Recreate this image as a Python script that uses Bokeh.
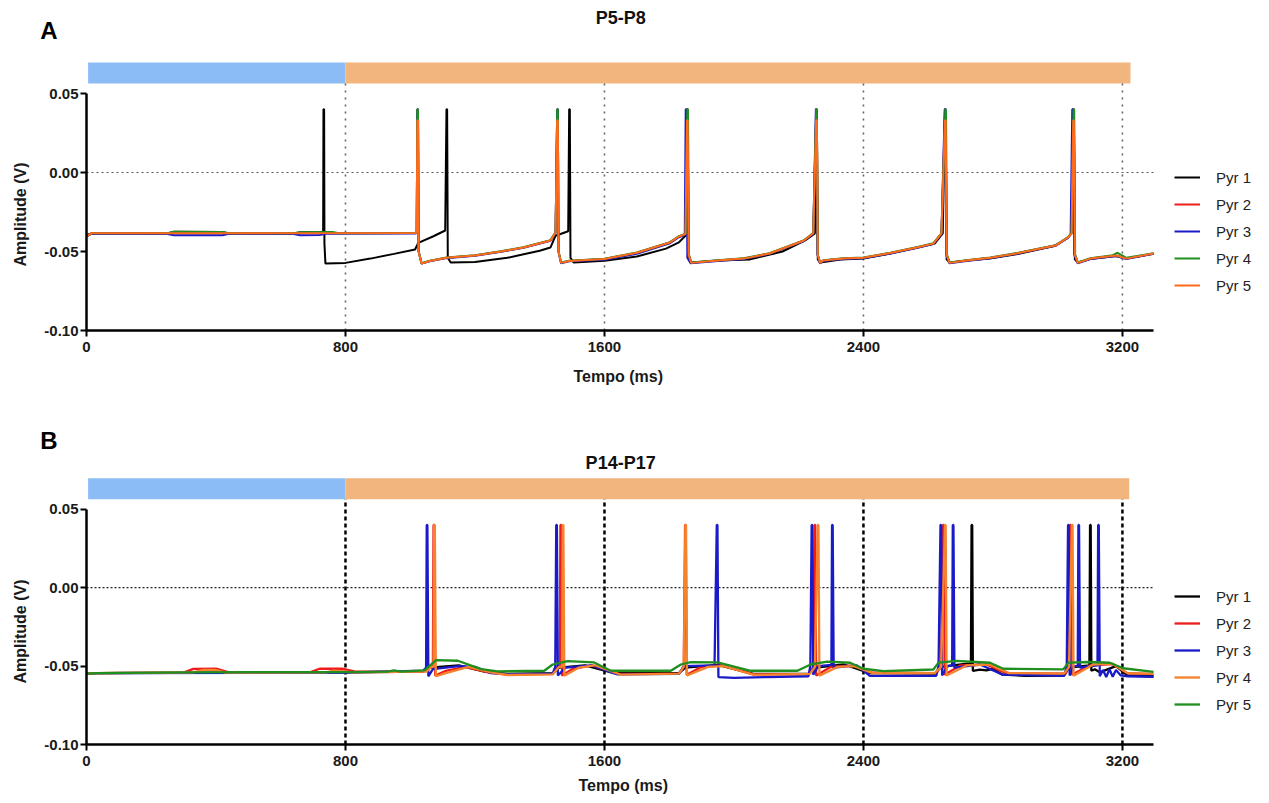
from bokeh.plotting import figure
from bokeh.models import (Range1d, FixedTicker, PrintfTickFormatter, Label, Title,
                          LinearAxis)
from bokeh.layouts import column
from bokeh.embed import file_html
from bokeh.resources import INLINE

# ---------------- data ----------------
X_TICKS = [0, 800, 1600, 2400, 3200]
Y_TICKS = [-0.10, -0.05, 0.00, 0.05]
STAGE_START = [5, 800]
STAGE_END_A = [800, 3225]
STAGE_END_B = [800, 3221]
STAGE_COLORS = ["#8cbcf5", "#f2b57d"]
VLINES = [800, 1600, 2400, 3200]
NAMES = ["Pyr 1", "Pyr 2", "Pyr 3", "Pyr 4", "Pyr 5"]

# Panel A (P5-P8) traces, (time ms, amplitude V)
A_PYR1 = [(0,-0.0395),(15,-0.0386),(250,-0.0386),(270,-0.0375),(420,-0.0376),(440,-0.0386),(640,-0.0386),(660,-0.0378),(728,-0.0376),(731,-0.0380),(732,0.040),(734,0.040),(735,-0.0450),(738,-0.0576),(800,-0.0572),(877,-0.0545),(950,-0.0515),(1015,-0.0487),(1025,-0.0445),(1070,-0.0405),(1108,-0.0367),(1112,0.040),(1114,0.040),(1116,-0.0540),(1125,-0.0570),(1200,-0.0566),(1300,-0.0540),(1400,-0.0495),(1433,-0.0475),(1449,-0.0400),(1488,-0.0372),(1491,0.040),(1493,0.040),(1495,-0.0540),(1505,-0.0570),(1600,-0.0558),(1700,-0.0532),(1790,-0.0482),(1830,-0.0442),(1850,-0.0400),(1855,0.040),(1857,0.040),(1860,-0.0550),(1868,-0.0570),(1950,-0.0557),(2050,-0.0550),(2150,-0.0500),(2220,-0.0430),(2250,-0.0385),(2254,0.040),(2256,0.040),(2259,-0.0550),(2266,-0.0570),(2330,-0.0550),(2400,-0.0545),(2480,-0.0515),(2560,-0.0478),(2620,-0.0450),(2645,-0.0385),(2652,0.040),(2654,0.040),(2657,-0.0550),(2666,-0.0570),(2720,-0.0557),(2790,-0.0545),(2880,-0.0515),(2990,-0.0465),(3030,-0.0415),(3043,-0.0385),(3048,0.040),(3050,0.040),(3053,-0.0550),(3062,-0.0570),(3100,-0.0548),(3180,-0.0528),(3212,-0.0545),(3296,-0.0515)]
A_PYR2 = [(0,-0.0405),(15,-0.0385),(250,-0.0385),(1016,-0.0383),(1020,-0.0380),(1022,0.040),(1024,0.040),(1026,-0.0500),(1035,-0.0576),(1060,-0.0560),(1112,-0.0540),(1200,-0.0525),(1280,-0.0500),(1350,-0.0475),(1433,-0.0430),(1449,-0.0380),(1454,0.040),(1456,0.040),(1458,-0.0500),(1466,-0.0572),(1490,-0.0560),(1600,-0.0548),(1700,-0.0508),(1800,-0.0445),(1830,-0.0405),(1850,-0.0390),(1855,0.040),(1857,0.040),(1860,-0.0520),(1868,-0.0572),(1950,-0.0557),(2030,-0.0545),(2110,-0.0513),(2215,-0.0432),(2245,-0.0385),(2254,0.040),(2256,0.040),(2259,-0.0520),(2266,-0.0572),(2276,-0.0557),(2338,-0.0545),(2400,-0.0540),(2483,-0.0510),(2564,-0.0475),(2616,-0.0450),(2641,-0.0385),(2652,0.040),(2654,0.040),(2657,-0.0520),(2666,-0.0572),(2718,-0.0557),(2792,-0.0540),(2879,-0.0510),(2996,-0.0460),(3032,-0.0410),(3043,-0.0385),(3048,0.040),(3050,0.040),(3053,-0.0520),(3062,-0.0572),(3101,-0.0545),(3181,-0.0525),(3212,-0.0545),(3296,-0.0513)]
A_PYR3 = [(0,-0.0405),(15,-0.0388),(250,-0.0390),(270,-0.0397),(420,-0.0397),(440,-0.0388),(640,-0.0390),(660,-0.0397),(720,-0.0395),(740,-0.0388),(1016,-0.0386),(1020,-0.0382),(1022,0.040),(1024,0.040),(1026,-0.0500),(1035,-0.0576),(1060,-0.0562),(1112,-0.0542),(1200,-0.0527),(1280,-0.0502),(1350,-0.0477),(1433,-0.0432),(1449,-0.0382),(1454,0.040),(1456,0.040),(1458,-0.0500),(1466,-0.0574),(1490,-0.0562),(1600,-0.0552),(1700,-0.0515),(1800,-0.0450),(1830,-0.0410),(1848,-0.0395),(1851,0.040),(1853,0.040),(1856,-0.0540),(1866,-0.0575),(1950,-0.0560),(2030,-0.0548),(2110,-0.0515),(2215,-0.0435),(2245,-0.0388),(2253,0.040),(2255,0.040),(2258,-0.0520),(2266,-0.0575),(2276,-0.0560),(2338,-0.0548),(2400,-0.0543),(2483,-0.0512),(2564,-0.0478),(2616,-0.0452),(2641,-0.0388),(2651,0.040),(2653,0.040),(2656,-0.0520),(2666,-0.0575),(2718,-0.0560),(2792,-0.0543),(2879,-0.0512),(2996,-0.0462),(3032,-0.0412),(3040,-0.0390),(3045,0.040),(3047,0.040),(3051,-0.0520),(3062,-0.0575),(3101,-0.0548),(3181,-0.0528),(3212,-0.0548),(3296,-0.0515)]
A_PYR4 = [(0,-0.0405),(15,-0.0385),(250,-0.0385),(270,-0.0375),(420,-0.0376),(440,-0.0385),(640,-0.0385),(660,-0.0378),(760,-0.0377),(780,-0.0384),(1016,-0.0383),(1020,-0.0379),(1022,0.040),(1024,0.040),(1026,-0.0500),(1035,-0.0574),(1060,-0.0558),(1112,-0.0538),(1200,-0.0523),(1280,-0.0498),(1350,-0.0473),(1433,-0.0428),(1449,-0.0378),(1454,0.040),(1456,0.040),(1458,-0.0500),(1466,-0.0570),(1490,-0.0558),(1600,-0.0546),(1700,-0.0506),(1800,-0.0443),(1830,-0.0403),(1851,-0.0388),(1856,0.040),(1858,0.040),(1861,-0.0520),(1869,-0.0570),(1950,-0.0555),(2030,-0.0543),(2110,-0.0511),(2215,-0.0430),(2245,-0.0383),(2254,0.040),(2256,0.040),(2259,-0.0520),(2266,-0.0570),(2276,-0.0555),(2338,-0.0543),(2400,-0.0538),(2483,-0.0508),(2564,-0.0473),(2616,-0.0448),(2641,-0.0383),(2653,0.040),(2655,0.040),(2658,-0.0520),(2667,-0.0570),(2718,-0.0555),(2792,-0.0538),(2879,-0.0508),(2996,-0.0458),(3032,-0.0408),(3043,-0.0383),(3049,0.040),(3051,0.040),(3054,-0.0520),(3063,-0.0570),(3101,-0.0543),(3170,-0.0523),(3185,-0.0508),(3212,-0.0540),(3296,-0.0511)]
A_PYR5 = [(0,-0.0405),(15,-0.0385),(250,-0.0385),(1016,-0.0383),(1020,-0.0380),(1022,0.033),(1024,0.033),(1026,-0.0500),(1035,-0.0576),(1060,-0.0560),(1112,-0.0540),(1200,-0.0525),(1280,-0.0500),(1350,-0.0475),(1433,-0.0430),(1449,-0.0380),(1454,0.033),(1456,0.033),(1458,-0.0500),(1466,-0.0572),(1490,-0.0560),(1600,-0.0548),(1700,-0.0508),(1800,-0.0445),(1830,-0.0405),(1850,-0.0390),(1855,0.033),(1857,0.033),(1860,-0.0520),(1868,-0.0572),(1950,-0.0557),(2030,-0.0545),(2110,-0.0513),(2215,-0.0432),(2245,-0.0385),(2254,0.033),(2256,0.033),(2259,-0.0520),(2266,-0.0572),(2276,-0.0557),(2338,-0.0545),(2400,-0.0540),(2483,-0.0510),(2564,-0.0475),(2616,-0.0450),(2641,-0.0385),(2652,0.033),(2654,0.033),(2657,-0.0520),(2666,-0.0572),(2718,-0.0557),(2792,-0.0540),(2879,-0.0510),(2996,-0.0460),(3032,-0.0410),(3043,-0.0385),(3048,0.033),(3050,0.033),(3053,-0.0520),(3062,-0.0572),(3101,-0.0545),(3181,-0.0525),(3212,-0.0545),(3296,-0.0513)]

# Panel B (P14-P17) traces
B_PYR1 = [(0,-0.0550),(30,-0.0545),(800,-0.0540),(1040,-0.0535),(1060,-0.0510),(1150,-0.0495),(1230,-0.0535),(1300,-0.0550),(1440,-0.0545),(1460,-0.0510),(1540,-0.0495),(1630,-0.0545),(1830,-0.0545),(1850,-0.0510),(1950,-0.0493),(2060,-0.0550),(2230,-0.0550),(2250,-0.0510),(2340,-0.0490),(2420,-0.0545),(2620,-0.0548),(2640,-0.0505),(2720,-0.0485),(2732,-0.0485),(2734,0.040),(2736,0.040),(2738,-0.0530),(2760,-0.0522),(2780,-0.0528),(2800,-0.0518),(2830,-0.0555),(2900,-0.0562),(3020,-0.0560),(3035,-0.0510),(3098,-0.0495),(3100,0.040),(3102,0.040),(3104,-0.0530),(3115,-0.0520),(3130,-0.0540),(3180,-0.0500),(3215,-0.0560),(3296,-0.0565)]
B_PYR2 = [(0,-0.0550),(30,-0.0545),(300,-0.0542),(330,-0.0518),(400,-0.0516),(440,-0.0540),(690,-0.0540),(720,-0.0517),(790,-0.0517),(830,-0.0535),(1040,-0.0535),(1060,-0.0505),(1070,-0.0505),(1072,0.040),(1074,0.040),(1077,-0.0560),(1110,-0.0530),(1170,-0.0505),(1240,-0.0540),(1300,-0.0555),(1440,-0.0550),(1455,-0.0505),(1462,-0.0505),(1464,0.040),(1466,0.040),(1469,-0.0560),(1500,-0.0520),(1560,-0.0495),(1640,-0.0550),(1830,-0.0548),(1845,-0.0505),(1849,0.040),(1851,0.040),(1854,-0.0555),(1900,-0.0505),(1960,-0.0495),(2060,-0.0553),(2230,-0.0553),(2245,-0.0505),(2249,0.040),(2251,0.040),(2254,-0.0560),(2300,-0.0505),(2370,-0.0495),(2420,-0.0540),(2625,-0.0545),(2640,-0.0500),(2646,0.040),(2648,0.040),(2651,-0.0555),(2700,-0.0495),(2780,-0.0490),(2840,-0.0545),(3025,-0.0548),(3033,-0.0500),(3038,0.040),(3040,0.040),(3043,-0.0555),(3100,-0.0495),(3170,-0.0488),(3215,-0.0545),(3296,-0.0552)]
B_PYR3 = [(0,-0.0550),(30,-0.0545),(800,-0.0542),(1040,-0.0530),(1049,-0.0510),(1051,0.040),(1053,0.040),(1056,-0.0565),(1070,-0.0520),(1150,-0.0500),(1200,-0.0505),(1250,-0.0545),(1300,-0.0552),(1440,-0.0548),(1448,-0.0505),(1451,0.040),(1453,0.040),(1456,-0.0560),(1480,-0.0510),(1560,-0.0495),(1640,-0.0553),(1830,-0.0550),(1845,-0.0500),(1940,-0.0495),(1947,0.040),(1949,0.040),(1952,-0.0570),(2000,-0.0575),(2100,-0.0570),(2230,-0.0565),(2236,-0.0500),(2240,0.040),(2242,0.040),(2245,-0.0555),(2260,-0.0500),(2301,-0.0492),(2303,0.040),(2305,0.040),(2308,-0.0510),(2380,-0.0495),(2420,-0.0562),(2625,-0.0562),(2632,-0.0500),(2638,0.040),(2640,0.040),(2643,-0.0560),(2660,-0.0500),(2674,-0.0495),(2676,0.040),(2678,0.040),(2681,-0.0510),(2760,-0.0490),(2830,-0.0555),(3020,-0.0562),(3028,-0.0500),(3032,0.040),(3034,0.040),(3037,-0.0560),(3050,-0.0500),(3062,-0.0500),(3064,0.040),(3066,0.040),(3069,-0.0510),(3123,-0.0495),(3125,0.040),(3127,0.040),(3130,-0.0565),(3140,-0.0525),(3150,-0.0570),(3160,-0.0520),(3170,-0.0568),(3180,-0.0525),(3195,-0.0560),(3215,-0.0565),(3296,-0.0568)]
B_PYR4 = [(0,-0.0550),(30,-0.0545),(330,-0.0540),(360,-0.0525),(400,-0.0525),(430,-0.0542),(740,-0.0540),(760,-0.0530),(790,-0.0532),(820,-0.0540),(1050,-0.0535),(1065,-0.0505),(1072,-0.0505),(1074,0.040),(1076,0.040),(1079,-0.0565),(1110,-0.0545),(1180,-0.0505),(1250,-0.0540),(1300,-0.0557),(1440,-0.0553),(1460,-0.0505),(1469,-0.0505),(1471,0.040),(1473,0.040),(1476,-0.0562),(1520,-0.0510),(1570,-0.0495),(1650,-0.0555),(1830,-0.0548),(1845,-0.0505),(1850,0.040),(1852,0.040),(1855,-0.0560),(1920,-0.0505),(1970,-0.0500),(2060,-0.0555),(2235,-0.0550),(2250,-0.0505),(2259,0.040),(2261,0.040),(2264,-0.0562),(2320,-0.0505),(2370,-0.0500),(2430,-0.0545),(2620,-0.0545),(2640,-0.0505),(2652,0.040),(2654,0.040),(2657,-0.0560),(2720,-0.0495),(2790,-0.0490),(2850,-0.0545),(3020,-0.0548),(3035,-0.0505),(3044,0.040),(3046,0.040),(3049,-0.0562),(3110,-0.0490),(3170,-0.0485),(3215,-0.0545),(3296,-0.0550)]
B_PYR5 = [(0,-0.0550),(30,-0.0545),(300,-0.0540),(800,-0.0538),(930,-0.0536),(950,-0.0528),(970,-0.0535),(1044,-0.0527),(1080,-0.0462),(1147,-0.0466),(1219,-0.0520),(1270,-0.0534),(1414,-0.0530),(1440,-0.0490),(1486,-0.0468),(1568,-0.0477),(1620,-0.0530),(1805,-0.0530),(1836,-0.0490),(1867,-0.0475),(1949,-0.0477),(2052,-0.0530),(2196,-0.0530),(2237,-0.0490),(2288,-0.0472),(2359,-0.0479),(2400,-0.0517),(2462,-0.0532),(2616,-0.0522),(2632,-0.0478),(2688,-0.0467),(2791,-0.0479),(2832,-0.0517),(3017,-0.0521),(3033,-0.0478),(3099,-0.0474),(3161,-0.0479),(3202,-0.0514),(3296,-0.0537)]

A_TRACES = [A_PYR1, A_PYR2, A_PYR3, A_PYR4, A_PYR5]
A_COLORS = ["#000000", "#ee1c1c", "#1a1ac8", "#1f8f1f", "#ff6a1c"]
B_TRACES = [B_PYR1, B_PYR2, B_PYR3, B_PYR4, B_PYR5]
B_COLORS = ["#000000", "#ee1c1c", "#1a1ac8", "#f5822c", "#1f8f1f"]

FONT = "Liberation Sans"
LEFT = 85
SCALE = 0.324  # px per ms
X_END = (1269 - LEFT) / SCALE


def make_panel(letter, title, traces, colors, stage_end, height, frame_h, y_end,
               bar_lo, vline_style, zero_style, legend_loc, trace_width,
               letter_px, title_y, xlab_offset, ylab_offset, bottom, xlab_standoff):
    p = figure(width=1269, height=height, x_range=Range1d(0, X_END),
               y_range=Range1d(-0.10, y_end), output_backend="svg",
               toolbar_location=None, title=None, min_border_left=LEFT,
               min_border_right=0, min_border_top=0, min_border_bottom=bottom)
    p.outline_line_color = None
    p.xgrid.visible = False
    p.ygrid.visible = False
    p.extra_y_ranges = {"px": Range1d(0, frame_h)}

    # stage bars
    p.quad(left=STAGE_START, right=stage_end, bottom=bar_lo, top=bar_lo + 0.0133,
           color=STAGE_COLORS, line_color=None)
    # reference lines
    p.segment(x0=VLINES, y0=[-0.10] * 4, x1=VLINES, y1=[bar_lo] * 4, **vline_style)
    p.segment(x0=[0], y0=[0], x1=[3296], y1=[0], **zero_style)

    for tr, c, n in zip(traces, colors, NAMES):
        t = [a for a, b in tr]
        v = [b for a, b in tr]
        p.line(t, v, line_color=c, line_width=trace_width, legend_label=n)

    lg = p.legend[0]
    lg.location = legend_loc
    lg.padding = 0
    lg.margin = 0
    lg.spacing = 7
    lg.glyph_height = 20
    lg.glyph_width = 26
    lg.label_height = 20
    lg.label_standoff = 16
    lg.label_text_font = FONT
    lg.label_text_font_size = "15px"
    lg.label_text_color = "#222222"
    lg.background_fill_alpha = 0
    lg.border_line_color = None

    for ax in (p.xaxis[0], p.yaxis[0]):
        ax.axis_line_width = 2.5
        ax.axis_line_color = "black"
        ax.major_tick_line_width = 2
        ax.major_tick_line_color = "black"
        ax.major_tick_out = 6
        ax.major_tick_in = 0
        ax.minor_tick_line_color = None
        ax.major_label_text_font = FONT
        ax.major_label_text_font_style = "bold"
        ax.major_label_text_font_size = "15px"
        ax.major_label_text_color = "#1a1a1a"
    p.xaxis[0].ticker = FixedTicker(ticks=X_TICKS)
    p.xaxis[0].bounds = (0, 3296)
    p.xaxis[0].major_label_standoff = 5
    p.yaxis[0].ticker = FixedTicker(ticks=Y_TICKS)
    p.yaxis[0].formatter = PrintfTickFormatter(format="%.2f")
    p.yaxis[0].bounds = (-0.10, 0.05)
    p.yaxis[0].major_label_standoff = 2

    # panel letter: label of an invisible helper axis, pulled over the tick-label column
    tick = frame_h - letter_px
    letter_axis = LinearAxis(y_range_name="px", ticker=FixedTicker(ticks=[tick]),
                             major_label_overrides={tick: letter},
                             axis_line_color=None, major_tick_line_color=None,
                             minor_tick_line_color=None, major_tick_out=0,
                             major_tick_in=0, major_label_standoff=-16,
                             major_label_text_font=FONT,
                             major_label_text_font_style="bold",
                             major_label_text_font_size="24px",
                             major_label_text_color="#000000")
    p.add_layout(letter_axis, "left")

    # axis titles placed with Title objects (offset from frame edge)
    p.add_layout(Title(text="Amplitude (V)", align="left", offset=ylab_offset,
                       text_font=FONT, text_font_style="bold", text_font_size="16px",
                       text_color="#1a1a1a", standoff=18), "left")
    p.add_layout(Title(text="Tempo (ms)", align="left", offset=xlab_offset,
                       vertical_align="top", text_font=FONT, text_font_style="bold",
                       text_font_size="16px", text_color="#1a1a1a",
                       standoff=xlab_standoff), "below")

    p.add_layout(Label(x=1650, y=title_y, text=title, text_font=FONT,
                       text_font_style="bold", text_font_size="18px",
                       text_align="center", text_baseline="middle", text_color="#111111"))
    return p


pA = make_panel("A", "P5-P8", A_TRACES, A_COLORS, STAGE_END_A, height=400, frame_h=330,
                y_end=0.05 + 93 / 1580, bar_lo=0.0563,
                vline_style=dict(line_color="#666666", line_width=1.6, line_dash="2 5"),
                zero_style=dict(line_color="#555555", line_width=1.2, line_dash="2 3"),
                legend_loc=(1088, 35), trace_width=2, letter_px=30,
                title_y=0.0981, xlab_offset=487, ylab_offset=64, bottom=70,
                xlab_standoff=27)

pB = make_panel("B", "P14-P17", B_TRACES, B_COLORS, STAGE_END_B, height=403, frame_h=345,
                y_end=0.05 + 109 / 1573, bar_lo=0.0564,
                vline_style=dict(line_color="#000000", line_width=2.5, line_dash="4 3"),
                zero_style=dict(line_color="#222222", line_width=1.2, line_dash="2 2"),
                legend_loc=(1088, 30), trace_width=2.3, letter_px=40,
                title_y=0.0792, xlab_offset=492, ylab_offset=61, bottom=58,
                xlab_standoff=16)

layout = column(pA, pB, spacing=0)
open("out.html", "w").write(file_html(layout, INLINE))
